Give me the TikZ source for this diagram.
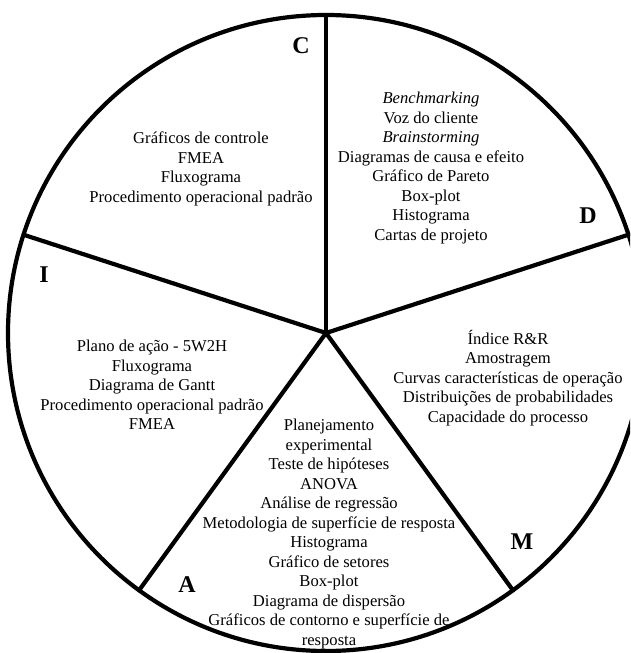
\documentclass[tikz,border=0pt]{standalone}
\usepackage{fontspec}
\setmainfont{Liberation Serif}
\begin{document}
\begin{tikzpicture}[x=1pt,y=-1pt,
  rim/.style={line width=4.2pt},
  spoke/.style={line width=4.2pt},
  items/.style={align=center,inner sep=0pt,font=\fontsize{16.6}{19.5}\selectfont},
  phase/.style={inner sep=0pt,font=\fontsize{24}{27}\selectfont\bfseries}]
\useasboundingbox (0,0) rectangle (630,653);
\clip (0,0) rectangle (630,653);
\coordinate (O) at (326,333);
\coordinate (eC) at ([shift={(90:318pt)}]O);
\coordinate (eI) at ([shift={(162:318pt)}]O);
\coordinate (eA) at ([shift={(234:318pt)}]O);
\coordinate (eM) at ([shift={(306:318pt)}]O);
\coordinate (eD) at ([shift={(18:318pt)}]O);
\draw[rim] (O) circle[radius=318pt];
\foreach \e in {eC,eI,eA,eM,eD} \draw[spoke,line cap=round] (O) -- (\e);

\node[phase] (lC) at (301,46) {C};
\node[phase] (lD) at (588,216) {D};
\node[phase] (lI) at (44,275) {I};
\node[phase] (lM) at (522,542) {M};
\node[phase] (lA) at (187,585) {A};

\node[items] (tC) at (201,169) {Gráficos de controle\\FMEA\\Fluxograma\\Procedimento operacional padrão};
\node[items] (tD) at (431,168) {\textit{Benchmarking}\\Voz do cliente\\\textit{Brainstorming}\\Diagramas de causa e efeito\\Gráfico de Pareto\\Box-plot\\Histograma\\Cartas de projeto};
\node[items] (tI) at (152,385) {Plano de ação - 5W2H\\Fluxograma\\Diagrama de Gantt\\Procedimento operacional padrão\\FMEA};
\node[items] (tM) at (508,378) {Índice R\&R\\Amostragem\\Curvas características de operação\\Distribuições de probabilidades\\Capacidade do processo};
\node[items] (tA) at (329,534) {Planejamento\\experimental\\Teste de hipóteses\\ANOVA\\Análise de regressão\\Metodologia de superfície de resposta\\Histograma\\Gráfico de setores\\Box-plot\\Diagrama de dispersão\\Gráficos de contorno e superfície de\\resposta};
\end{tikzpicture}
\end{document}
